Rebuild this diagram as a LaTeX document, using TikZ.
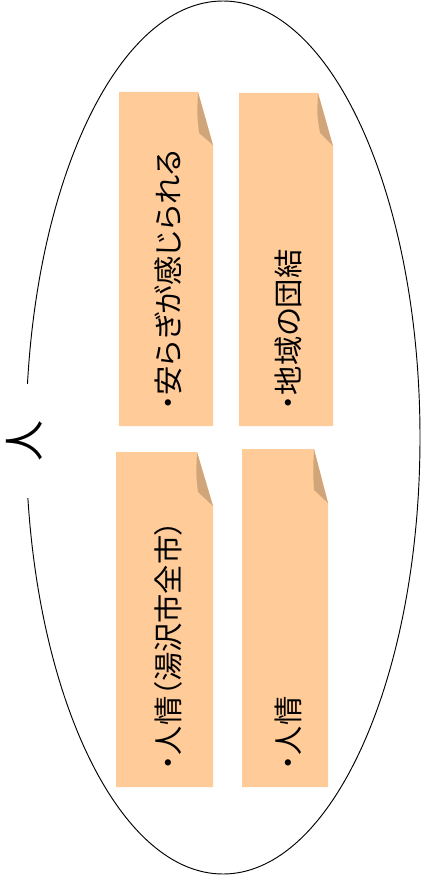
\documentclass[tikz,border=0pt]{standalone}
\usepackage{fontspec}
\newfontfamily\jp[RawFeature=+palt]{Noto Sans CJK JP}
\usetikzlibrary{positioning}
\definecolor{notefill}{HTML}{FFCB99}
\definecolor{notefold}{HTML}{D1A57A}

\begin{document}
\begin{tikzpicture}[x=0.03cm, y=-0.03cm,
    memo/.style={anchor=west, rotate=90, inner sep=0pt, font=\jp\fontsize{25}{30}\selectfont},
    title/.style={rotate=90, fill=white, inner xsep=1.1cm, inner ysep=0pt, font=\jp\fontsize{35}{40}\selectfont}]

    \useasboundingbox (0,0) rectangle (423,881);

    \draw[line width=0.8pt] (223,437.5) ellipse [x radius=197, y radius=436.5];
    \node [title] (hito) at (24,441) {人};

    % sticky notes
    \fill[notefill] (119,92) -- (198,92) -- (213,145) -- (213,426) -- (119,426) -- cycle;
    \fill[notefold] (198,92) .. controls (197,115) .. (199,133) -- (213,145) -- cycle;

    \fill[notefill] (239,93) -- (318,93) -- (333,146) -- (333,426) -- (239,426) -- cycle;
    \fill[notefold] (318,93) .. controls (317,115) .. (320,133) -- (333,146) -- cycle;

    \fill[notefill] (116,452) -- (197,452) -- (213,506) -- (213,787) -- (116,787) -- cycle;
    \fill[notefold] (197,452) .. controls (196,475) .. (198,492) -- (213,506) -- cycle;

    \fill[notefill] (242,449) -- (314,449) -- (328,503) -- (328,787) -- (242,787) -- cycle;
    \fill[notefold] (314,449) .. controls (313,472) .. (314,490) -- (328,503) -- cycle;

    \node [memo] (anshin) at (168,410) {・安らぎが感じられる};
    \node [memo] (danketsu) at (288,410) {・地域の団結};
    \node [memo] (ninjou-yuzawa) at (168,770) {・人情（湯沢市全市）};
    \node [memo] (ninjou) at (288,770) {・人情};
\end{tikzpicture}
\end{document}
